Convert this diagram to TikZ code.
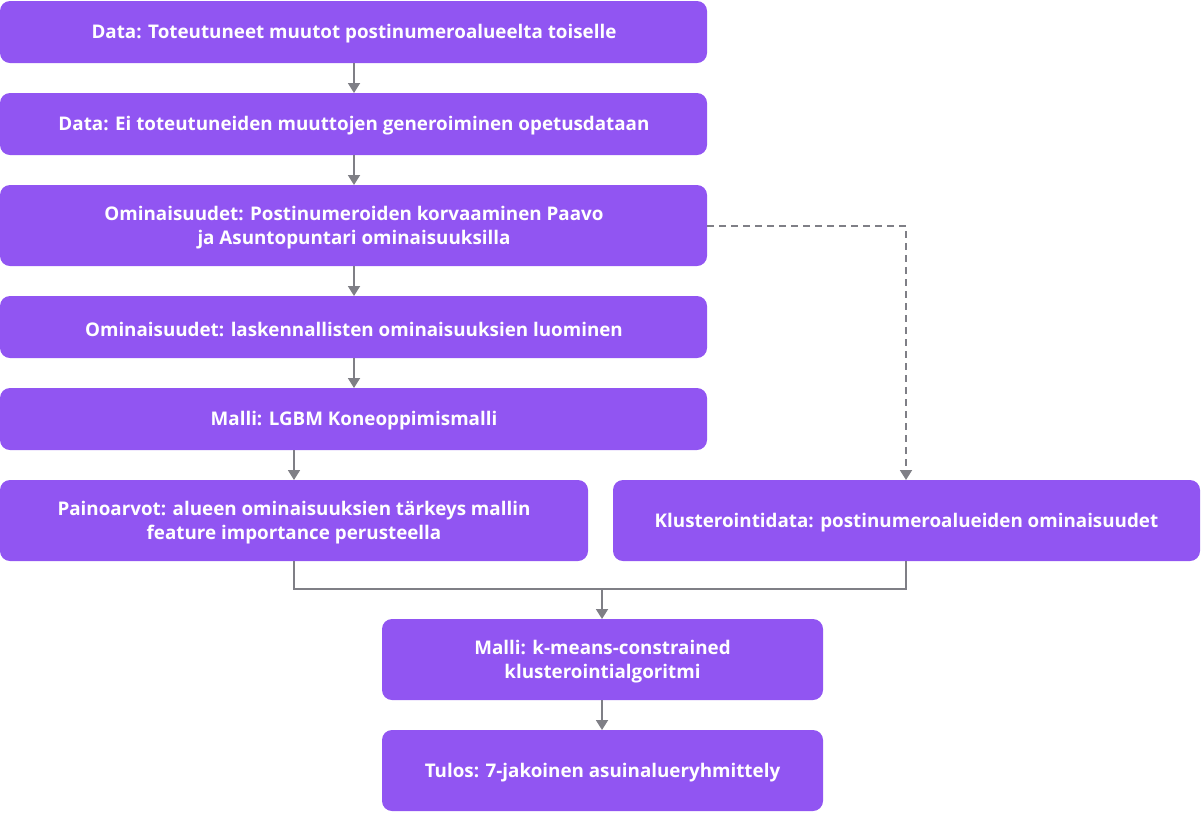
\documentclass[tikz,border=0pt]{standalone}
\usepackage{fontspec}
\setmainfont{Open Sans}
\usetikzlibrary{arrows.meta,positioning}
\definecolor{boxpurple}{HTML}{9155F2}
\definecolor{linegray}{HTML}{7F7F86}
\tikzset{
  boxbg/.style={fill=boxpurple, rounded corners=10pt},
  box/.style={text=white, font=\fontsize{18.8}{24}\selectfont\bfseries, align=center, inner sep=0pt, yshift=-2pt},
  conn/.style={draw=linegray, line width=1.8pt, -{Triangle[width=12pt,length=10pt]}},
  plainline/.style={draw=linegray, line width=1.8pt},
  dashline/.style={draw=linegray, line width=1.8pt, dash pattern=on 7pt off 5pt, -{Triangle[width=12pt,length=10pt]}}
}
\begin{document}
\begin{tikzpicture}[x=1pt,y=-1pt]
\useasboundingbox (0,0) rectangle (1201,812);
\fill[boxbg] (0,1) rectangle (707,63);
\node[box] (b1) at (354,32) {Data: Toteutuneet muutot postinumeroalueelta toiselle};
\fill[boxbg] (0,93) rectangle (707,155);
\node[box] (b2) at (354,124) {Data: Ei toteutuneiden muuttojen generoiminen opetusdataan};
\fill[boxbg] (0,185) rectangle (707,266);
\node[box] (b3) at (354,225.5) {Ominaisuudet: Postinumeroiden korvaaminen Paavo\\ja Asuntopuntari ominaisuuksilla};
\fill[boxbg] (0,296) rectangle (707,358);
\node[box] (b4) at (354,327) {Ominaisuudet: laskennallisten ominaisuuksien luominen};
\fill[boxbg] (0,388) rectangle (707,450);
\node[box] (b5) at (354,419) {Malli: LGBM Koneoppimismalli};
\fill[boxbg] (0,480) rectangle (588,561);
\node[box] (b6) at (294,520.5) {Painoarvot: alueen ominaisuuksien tärkeys mallin\\feature importance perusteella};
\fill[boxbg] (613,480) rectangle (1200,561);
\node[box] (b7) at (906.5,520.5) {Klusterointidata: postinumeroalueiden ominaisuudet};
\fill[boxbg] (382,619) rectangle (823,700);
\node[box] (b8) at (602.5,659.5) {Malli: k-means-constrained\\klusterointialgoritmi};
\fill[boxbg] (382,730) rectangle (823,811);
\node[box] (b9) at (602.5,770.5) {Tulos: 7-jakoinen asuinalueryhmittely};
\coordinate (t1) at (354,63);
\coordinate (t2) at (354,93);
\coordinate (t3) at (354,155);
\coordinate (t4) at (354,185);
\coordinate (t5) at (354,266);
\coordinate (t6) at (354,296);
\coordinate (t7) at (354,358);
\coordinate (t8) at (354,388);
\coordinate (s5) at (294,450);
\coordinate (s6) at (294,480);
\coordinate (d1) at (707,226);
\coordinate (d2) at (906,480);
\coordinate (m1) at (294,561);
\coordinate (m2) at (906,561);
\coordinate (mj) at (602,589);
\coordinate (e8) at (602,619);
\coordinate (f8) at (602,700);
\coordinate (e9) at (602,730);
\draw[conn] (t1) -- (t2);
\draw[conn] (t3) -- (t4);
\draw[conn] (t5) -- (t6);
\draw[conn] (t7) -- (t8);
\draw[conn] (s5) -- (s6);
\draw[dashline] (d1) -| (d2);
\draw[plainline] (m1) |- (mj) -| (m2);
\draw[conn] (mj) -- (e8);
\draw[conn] (f8) -- (e9);
\end{tikzpicture}
\end{document}
